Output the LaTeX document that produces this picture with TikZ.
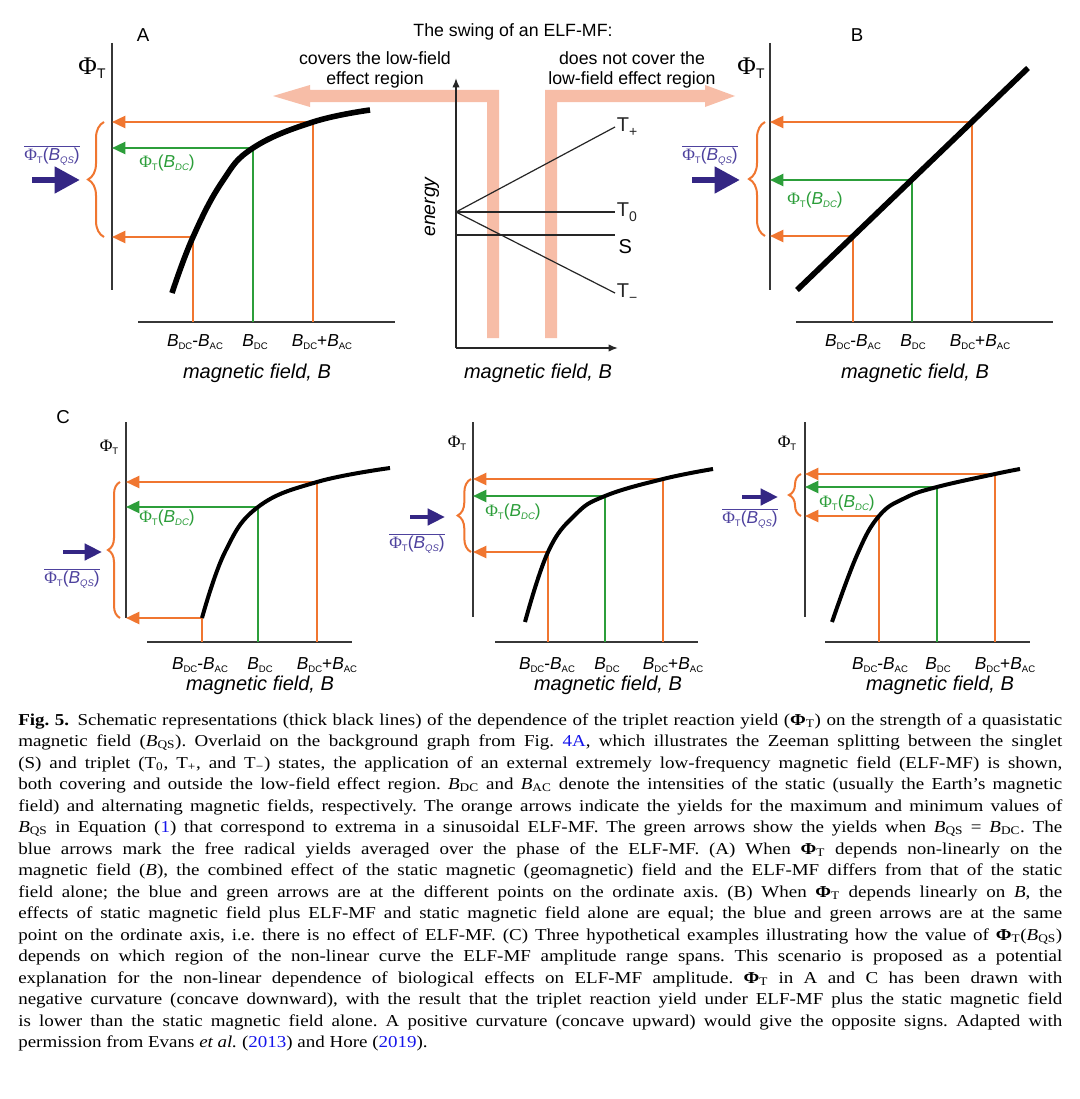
\documentclass[tikz,border=0pt]{standalone}
\usepackage{fontspec}
\setmainfont[FakeStretch=1.14]{Liberation Serif}
\newfontfamily\figfont{Liberation Sans}
\newfontfamily\phifont{Liberation Serif}
\usepackage{xcolor}
\usetikzlibrary{arrows.meta,decorations.pathreplacing}

\definecolor{oranzh}{RGB}{240,118,48}
\definecolor{zelen}{RGB}{44,158,58}
\definecolor{sinij}{RGB}{52,38,132}
\definecolor{sinijtxt}{RGB}{78,66,158}
\definecolor{rozov}{RGB}{246,178,152}
\definecolor{ssylka}{RGB}{20,20,235}
\definecolor{osi}{RGB}{55,55,55}

\hyphenpenalty=10000
\exhyphenpenalty=10000
\tolerance=10000

\newcommand{\fsz}[1]{\fontsize{#1}{#1}\selectfont}
\newcommand{\lowsub}[1]{\raisebox{-0.3ex}{\scalebox{0.55}{#1}}}
\newcommand{\tsub}[1]{\raisebox{-0.45ex}{\scalebox{0.7}{#1}}}
\newcommand{\PhiT}{{\phifont Φ}\lowsub{T}}
\newcommand{\yieldlbl}[1]{\PhiT(\textit{B}\lowsub{\textit{#1}})}
\newcommand{\meanlbl}{$\overline{\hbox{\yieldlbl{QS}}}$}
\newcommand{\tickmin}{\textit{B}\lowsub{DC}-\textit{B}\lowsub{AC}}
\newcommand{\tickdc}{\textit{B}\lowsub{DC}}
\newcommand{\tickplus}{\textit{B}\lowsub{DC}+\textit{B}\lowsub{AC}}

\begin{document}
\begin{tikzpicture}[x=0.75pt, y=-0.75pt, font=\figfont,
  os/.style={osi, line width=1.4pt},
  tonk/.style={black!85, line width=0.9pt},
  krivaya/.style={black, line width=4.2pt},
  krivayaC/.style={black, line width=3pt},
  ostr/.style={oranzh, line width=1.8pt, -{Triangle[length=10pt,width=9pt]}},
  gstr/.style={zelen, line width=1.8pt, -{Triangle[length=10pt,width=9pt]}},
  skobka/.style={oranzh, line width=1.5pt, decorate, decoration={brace, amplitude=#1}},
  skobka/.default=12pt,
  sstr/.style={sinij, line width=5pt, -{Triangle[length=19pt,width=19pt]}},
  sstrC/.style={sinij, line width=3.2pt, -{Triangle[length=13pt,width=12pt]}},
  tick/.style={font=\figfont\fsz{13}},
  axlbl/.style={font=\figfont\fsz{15}\itshape},
  yld/.style={font=\figfont\fsz{13}},
  urov/.style={right, inner sep=1pt, font=\figfont\fsz{15}}]
\fill [white] (0,0) rectangle (1080,1099);
\useasboundingbox (0,0) rectangle (1080,1099);

% полосы ELF-MF
\fill [rozov, opacity=0.85] (273,96) -- (310,85) -- (310,90) -- (499,90) -- (499,338) -- (487,338) -- (487,102) -- (310,102) -- (310,107) -- cycle;
\fill [rozov, opacity=0.85] (735,96) -- (705,85) -- (705,90) -- (545,90) -- (545,338) -- (557,338) -- (557,102) -- (705,102) -- (705,107) -- cycle;

% ---------- A ----------
% оси
\coordinate (Ao) at (112,322);
\draw [os] (112,43) -- (112,290);
\draw [os] (138,322) -- (395,322);
\node (Aphi) at (92,68) {\fsz{19}\PhiT};
\node (Alet) at (143,35) {\fsz{14}A};
% точки
\coordinate (Alo) at (193,237);
\coordinate (Amid) at (253,148);
\coordinate (Ahi) at (313,122);
% стрелки
\draw [ostr] (Alo |- Ao) -- (Alo) -- (Alo -| Ao);
\draw [ostr] (Ahi |- Ao) -- (Ahi) -- (Ahi -| Ao);
\draw [gstr] (Amid |- Ao) -- (Amid) -- (Amid -| Ao);
% график
\draw [krivaya] plot [smooth, tension=0.7] coordinates {(172,293) (193,237) (222,182) (253,148) (313,122) (370,110)};
\draw [skobka] (104,237) -- (104,122);
\coordinate (Abl) at (32,180);
\coordinate (Abr) at (80,180);
\draw [sstr] (Abl) -- (Abr);
% подписи
\node (Aqs) [yld, sinijtxt] at (52,155) {\meanlbl};
\node (Adc) [yld, zelen] at (167,163) {\yieldlbl{DC}};
\node (At1) [tick] at (195,342) {\tickmin};
\node (At2) [tick] at (255,342) {\tickdc};
\node (At3) [tick] at (322,342) {\tickplus};
\node (Axl) [axlbl] at (257,373) {magnetic field, B};

% ---------- центр ----------
\coordinate (Eo) at (456,348);
\coordinate (E0) at (456,212);
\draw [tonk, line width=1.1pt, -{Latex[length=7pt,width=5.5pt]}] (Eo) -- (456,78);
\draw [tonk, line width=1.1pt, -{Latex[length=7pt,width=5.5pt]}] (Eo) -- (618,348);
\draw [tonk] (E0) -- (615,127) node (Tp) [urov] {T\tsub{+}};
\draw [tonk] (E0) -- (615,212) node (Tn) [urov] {T\tsub{0}};
\draw [tonk] (E0) -- (615,293) node (Tm) [urov] {T\tsub{−}};
\draw [tonk] (456,235) -- (615,235);
\node (Sl) [anchor=west, inner sep=1pt, font=\figfont\fsz{15}] at (617,247) {S};
\node (En) [rotate=90, font=\figfont\fsz{14.5}\itshape] at (432,207) {energy};
\node (Sw) [font=\figfont\fsz{13.3}] at (513,32) {The swing of an ELF-MF:};
\node (Cv) [align=center, font=\figfont\fontsize{13.3}{15}\selectfont] at (375,70) {covers the low-field\\effect region};
\node (Nc) [align=center, font=\figfont\fontsize{13.3}{15}\selectfont] at (632,70) {does not cover the\\low-field effect region};
\node (Mxl) [axlbl] at (538,373) {magnetic field, B};

% ---------- B ----------
\coordinate (Bo) at (770,322);
\draw [os] (770,43) -- (770,290);
\draw [os] (796,322) -- (1053,322);
\node (Bphi) at (751,68) {\fsz{19}\PhiT};
\node (Blet) at (857,35) {\fsz{14}B};
\coordinate (Blo) at (853,236);
\coordinate (Bmid) at (912,180);
\coordinate (Bhi) at (972,122);
\draw [ostr] (Blo |- Bo) -- (Blo) -- (Blo -| Bo);
\draw [ostr] (Bhi |- Bo) -- (Bhi) -- (Bhi -| Bo);
\draw [gstr] (Bmid |- Bo) -- (Bmid) -- (Bmid -| Bo);
\draw [krivaya] (797,290) -- (1028,68);
\draw [skobka] (765,236) -- (765,122);
\coordinate (Bbl) at (692,180);
\coordinate (Bbr) at (740,180);
\draw [sstr] (Bbl) -- (Bbr);
\node (Bqs) [yld, sinijtxt] at (710,155) {\meanlbl};
\node (Bdc) [yld, zelen] at (815,200) {\yieldlbl{DC}};
\node (Bt1) [tick] at (853,342) {\tickmin};
\node (Bt2) [tick] at (913,342) {\tickdc};
\node (Bt3) [tick] at (980,342) {\tickplus};
\node (Bxl) [axlbl] at (915,373) {magnetic field, B};

% ---------- C1 ----------
\node (Clet) at (63,417) {\fsz{14}C};
\coordinate (Ko) at (126,642);
\draw [os, line width=1.2pt] (126,422) -- (126,618);
\draw [os, line width=1.2pt] (147,642) -- (352,642);
\node (Kphi) at (109,447) {\fsz{13}\PhiT};
\coordinate (Klo) at (202,618);
\coordinate (Kmid) at (258,507);
\coordinate (Khi) at (317,482);
\draw [ostr] (Klo |- Ko) -- (Klo) -- (Klo -| Ko);
\draw [ostr] (Khi |- Ko) -- (Khi) -- (Khi -| Ko);
\draw [gstr] (Kmid |- Ko) -- (Kmid) -- (Kmid -| Ko);
\draw [krivayaC] plot [smooth, tension=0.7] coordinates {(202,618) (225,552) (258,507) (317,482) (390,468)};
\draw [skobka=9pt] (120,618) -- (120,482);
\coordinate (Kbl) at (63,552);
\coordinate (Kbr) at (102,552);
\draw [sstrC] (Kbl) -- (Kbr);
\node (Kqs) [yld, sinijtxt] at (72,578) {\meanlbl};
\node (Kdc) [yld, zelen] at (167,518) {\yieldlbl{DC}};
\node (Kt1) [tick] at (200,665) {\tickmin};
\node (Kt2) [tick] at (260,665) {\tickdc};
\node (Kt3) [tick] at (327,665) {\tickplus};
\node (Kxl) [axlbl] at (260,685) {magnetic field, B};

% ---------- C2 ----------
\coordinate (Lo) at (473,642);
\draw [os, line width=1.2pt] (473,422) -- (473,617);
\draw [os, line width=1.2pt] (495,642) -- (698,642);
\node (Lphi) at (457,443) {\fsz{13}\PhiT};
\coordinate (Llo) at (548,552);
\coordinate (Lmid) at (605,496);
\coordinate (Lhi) at (663,479);
\draw [ostr] (Llo |- Lo) -- (Llo) -- (Llo -| Lo);
\draw [ostr] (Lhi |- Lo) -- (Lhi) -- (Lhi -| Lo);
\draw [gstr] (Lmid |- Lo) -- (Lmid) -- (Lmid -| Lo);
\draw [krivayaC] plot [smooth, tension=0.7] coordinates {(525,622) (548,552) (575,515) (605,496) (663,479) (713,469)};
\draw [skobka=10pt] (471,552) -- (471,479);
\coordinate (Lbl) at (410,517);
\coordinate (Lbr) at (445,517);
\draw [sstrC] (Lbl) -- (Lbr);
\node (Lqs) [yld, sinijtxt] at (417,543) {\meanlbl};
\node (Ldc) [yld, zelen] at (513,512) {\yieldlbl{DC}};
\node (Lt1) [tick] at (547,665) {\tickmin};
\node (Lt2) [tick] at (607,665) {\tickdc};
\node (Lt3) [tick] at (673,665) {\tickplus};
\node (Lxl) [axlbl] at (608,685) {magnetic field, B};

% ---------- C3 ----------
\coordinate (Mo) at (805,642);
\draw [os, line width=1.2pt] (805,422) -- (805,617);
\draw [os, line width=1.2pt] (825,642) -- (1030,642);
\node (Mphi) at (787,443) {\fsz{13}\PhiT};
\coordinate (Mlo) at (879,516);
\coordinate (Mmid) at (937,487);
\coordinate (Mhi) at (995,474);
\draw [ostr] (Mlo |- Mo) -- (Mlo) -- (Mlo -| Mo);
\draw [ostr] (Mhi |- Mo) -- (Mhi) -- (Mhi -| Mo);
\draw [gstr] (Mmid |- Mo) -- (Mmid) -- (Mmid -| Mo);
\draw [krivayaC] plot [smooth, tension=0.7] coordinates {(832,622) (857,555) (879,516) (905,498) (937,487) (995,474) (1020,469)};
\draw [skobka=9pt] (801,516) -- (801,474);
\coordinate (Mbl) at (742,497);
\coordinate (Mbr) at (778,497);
\draw [sstrC] (Mbl) -- (Mbr);
\node (Mqs) [yld, sinijtxt] at (750,518) {\meanlbl};
\node (Mdc) [yld, zelen] at (847,503) {\yieldlbl{DC}};
\node (Mt1) [tick] at (880,665) {\tickmin};
\node (Mt2) [tick] at (938,665) {\tickdc};
\node (Mt3) [tick] at (1005,665) {\tickplus};
\node (Mxl) [axlbl] at (940,685) {magnetic field, B};

% подпись к рисунку
\node (podpis) [anchor=north west, inner sep=0pt, text width=783pt, align=justify,
  font=\normalfont\fontsize{12.5}{16.13}\selectfont\frenchspacing] at (18,713) {%
\textbf{Fig. 5.}\enspace Schematic representations (thick black lines) of the dependence of the triplet reaction yield (\textbf{Φ}\textsubscript{T}) on the strength of a quasistatic\linebreak
magnetic field (\textit{B}\textsubscript{QS}). Overlaid on the background graph from Fig.~\textcolor{ssylka}{4A}, which illustrates the Zeeman splitting between the singlet\linebreak
(S) and triplet (T\textsubscript{0}, T\textsubscript{+}, and T\textsubscript{−}) states, the application of an external extremely low-frequency magnetic field (ELF-MF) is shown,\linebreak
both covering and outside the low-field effect region. \textit{B}\textsubscript{DC} and \textit{B}\textsubscript{AC} denote the intensities of the static (usually the Earth’s magnetic\linebreak
field) and alternating magnetic fields, respectively. The orange arrows indicate the yields for the maximum and minimum values of\linebreak
\textit{B}\textsubscript{QS} in Equation (\textcolor{ssylka}{1}) that correspond to extrema in a sinusoidal ELF-MF. The green arrows show the yields when \textit{B}\textsubscript{QS} = \textit{B}\textsubscript{DC}. The\linebreak
blue arrows mark the free radical yields averaged over the phase of the ELF-MF. (A) When \textbf{Φ}\textsubscript{T} depends non-linearly on the\linebreak
magnetic field (\textit{B}), the combined effect of the static magnetic (geomagnetic) field and the ELF-MF differs from that of the static\linebreak
field alone; the blue and green arrows are at the different points on the ordinate axis. (B) When \textbf{Φ}\textsubscript{T} depends linearly on \textit{B}, the\linebreak
effects of static magnetic field plus ELF-MF and static magnetic field alone are equal; the blue and green arrows are at the same\linebreak
point on the ordinate axis, i.e. there is no effect of ELF-MF. (C) Three hypothetical examples illustrating how the value of \textbf{Φ}\textsubscript{T}(\textit{B}\textsubscript{QS})\linebreak
depends on which region of the non-linear curve the ELF-MF amplitude range spans. This scenario is proposed as a potential\linebreak
explanation for the non-linear dependence of biological effects on ELF-MF amplitude. \textbf{Φ}\textsubscript{T} in A and C has been drawn with\linebreak
negative curvature (concave downward), with the result that the triplet reaction yield under ELF-MF plus the static magnetic field\linebreak
is lower than the static magnetic field alone. A positive curvature (concave upward) would give the opposite signs. Adapted with\linebreak
permission from Evans \textit{et al.} (\textcolor{ssylka}{2013}) and Hore (\textcolor{ssylka}{2019}).};
\end{tikzpicture}
\end{document}
